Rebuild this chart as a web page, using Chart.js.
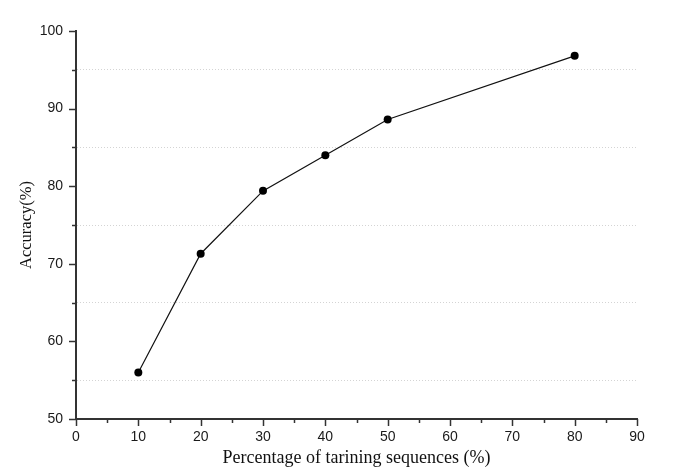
<!DOCTYPE html>
<html><head><meta charset="utf-8">
<script src="https://cdn.jsdelivr.net/npm/chart.js@4/dist/chart.umd.min.js"></script>
<style>html,body{margin:0;padding:0;background:#fff}#wrap{width:685px;height:475px}</style>
</head><body><div id="wrap"><canvas id="c" width="685" height="475"></canvas></div>
<script>
const trainingPercent = [10, 20, 30, 40, 50, 80];
const accuracy = [56.0, 71.3, 79.4, 84.0, 88.6, 96.8];
const xTickLabels = [0, 10, 20, 30, 40, 50, 60, 70, 80, 90];
const yTickLabels = [50, 60, 70, 80, 90, 100];

const axisColor = '#333';
const tickPlugin = {
  id: 'ticksDraw',
  afterDraw(chart) {
    const ctx = chart.ctx;
    const xs = chart.scales.x, ys = chart.scales.y;
    const area = chart.chartArea;
    ctx.save();
    ctx.strokeStyle = axisColor;
    ctx.lineWidth = 1.5;
    for (let v = 0; v <= 90; v += 5) {
      const major = xTickLabels.includes(v);
      const px = Math.round(xs.getPixelForValue(v)) + 0.5;
      ctx.beginPath();
      ctx.moveTo(px, area.bottom);
      ctx.lineTo(px, area.bottom + (major ? 7 : 4));
      ctx.stroke();
    }
    for (let v = 50; v <= 100; v += 5) {
      const major = yTickLabels.includes(v);
      const py = Math.round(ys.getPixelForValue(v)) + 0.5;
      ctx.beginPath();
      ctx.moveTo(area.left, py);
      ctx.lineTo(area.left - (major ? 7 : 4), py);
      ctx.stroke();
    }
    ctx.restore();
  }
};

new Chart(document.getElementById('c'), {
  type: 'line',
  data: {
    datasets: [{
      data: trainingPercent.map((x, i) => ({x, y: accuracy[i]})),
      borderColor: '#111',
      borderWidth: 1.2,
      pointRadius: 4,
      pointBackgroundColor: '#000',
      pointBorderColor: '#000',
      pointBorderWidth: 0,
      tension: 0
    }]
  },
  plugins: [tickPlugin],
  options: {
    responsive: false,
    animation: false,
    layout: {padding: {top: 31, right: 48, left: 0, bottom: 0}},
    plugins: {legend: {display: false}, tooltip: {enabled: false}},
    scales: {
      x: {
        type: 'linear', min: 0, max: 90,
        afterFit(s) { s.height = 56; },
        ticks: {stepSize: 10, color: '#1a1a1a', padding: 10,
          font: {family: 'Liberation Sans', size: 14},
          callback: v => xTickLabels.includes(v) ? String(v) : ''},
        grid: {display: false, drawTicks: false},
        border: {display: true, color: axisColor, width: 2},
        title: {display: true, text: 'Percentage of tarining sequences (%)', color: '#111',
          font: {family: 'Liberation Serif', size: 18}, padding: {top: 0, bottom: 6}}
      },
      y: {
        type: 'linear', min: 50, max: 100,
        afterFit(s) { s.width = 76; },
        ticks: {stepSize: 5, color: '#1a1a1a', padding: 13,
          font: {family: 'Liberation Sans', size: 14},
          callback: v => yTickLabels.includes(v) ? String(v) : ''},
        grid: {drawTicks: false, lineWidth: 1,
          color: c => (c.tick && c.tick.value % 10 === 5) ? '#d4d4d4' : 'rgba(0,0,0,0)'},
        border: {display: true, color: axisColor, width: 2, dash: [1, 2]},
        title: {display: true, text: 'Accuracy(%)', color: '#111',
          font: {family: 'Liberation Serif', size: 16.5}, padding: {top: 17, bottom: 0}}
      }
    }
  }
});
</script>
</body></html>
